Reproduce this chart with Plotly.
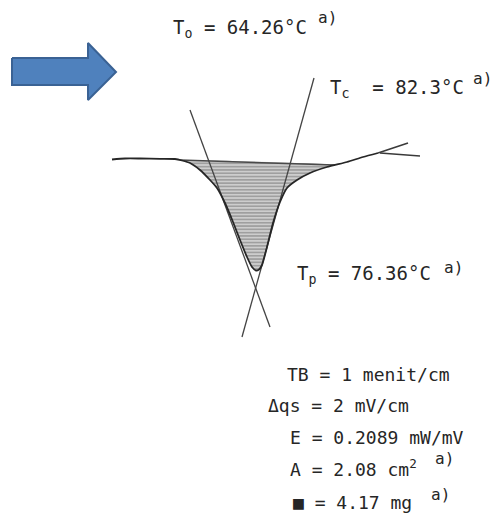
import plotly.graph_objects as go

# DSC thermogram, traced in chart-paper units (x to the right, y downward)
trace_x = [112, 125, 140, 160, 175, 182, 190, 200, 210, 217, 225, 233, 240, 247, 252,
           256, 259, 262, 267, 273, 280, 287, 297, 310, 327, 347, 363, 378]
trace_y = [159.5, 158.5, 158.5, 158.8, 159.0, 160.5, 163, 170, 180, 188, 203, 222, 240, 257, 267,
           270.5, 269.5, 265, 247, 223, 202, 188, 180, 173, 167, 162, 157, 153]

# the pen trace forks at its right end
fork_upper_x = [378, 408]
fork_upper_y = [153, 143]
fork_lower_x = [380, 420]
fork_lower_y = [153, 156]

# interpolated baseline closing the peak area
base_x = [180, 335]
base_y = [160, 165]

# construction tangents of the two peak flanks
tan_left_x = [190, 270]
tan_left_y = [110, 327]
tan_right_x = [314, 242]
tan_right_y = [78, 337]

# block arrow outline
arrow_x = [12, 88, 88, 116, 88, 88, 12, 12]
arrow_y = [58, 58, 43, 72, 100, 85, 85, 58]

# temperature labels: text, x, y
labels = [
    ("T<sub>o</sub> = 64.26°C", 171, 28),
    ("T<sub>c</sub>\u00a0 = 82.3°C", 328, 88),
    ("T<sub>p</sub> = 76.36°C", 295, 274),
]
# footnote markers "a)"
note_x = [316, 471, 442, 433, 429]
note_y = [17, 78, 267, 458, 494]

# instrument and sample settings
settings = [
    ("TB = 1 menit/cm", 285, 374),
    ("\u0394qs = 2 mV/cm", 266, 405),
    ("E = 0.2089 mW/mV", 288, 437),
    ("A = 2.08 cm<sup>2</sup>", 288, 468),
    ("\u25a0 = 4.17 mg", 291, 502),
]

INK = "#262626"
MONO = "DejaVu Sans Mono"

fig = go.Figure()

# hatched peak area: baseline left-to-right, then back along the trace
area_x = list(base_x)
area_y = list(base_y)
seg = [(x, y) for x, y in zip(trace_x, trace_y) if base_x[0] <= x <= base_x[1]]
for x, y in reversed(seg):
    area_x.append(x)
    area_y.append(y)
area_x.append(base_x[0])
area_y.append(base_y[0])

fig.add_trace(go.Scatter(
    x=area_x, y=area_y, mode="lines", fill="toself",
    line=dict(width=0, shape="spline", smoothing=0.6),
    fillcolor="rgba(0,0,0,0)",
    fillpattern=dict(shape="-", size=3.3, solidity=0.55,
                     fgcolor="#6c6c6c", bgcolor="#d2d2d2"),
    hoverinfo="skip", showlegend=False,
))

fig.add_trace(go.Scatter(x=base_x, y=base_y, mode="lines",
                         line=dict(color="#4a4a4a", width=1.5),
                         hoverinfo="skip", showlegend=False))

for tx, ty in ((tan_left_x, tan_left_y), (tan_right_x, tan_right_y)):
    fig.add_trace(go.Scatter(x=tx, y=ty, mode="lines",
                             line=dict(color="#444444", width=1.3),
                             hoverinfo="skip", showlegend=False))

fig.add_trace(go.Scatter(x=trace_x, y=trace_y, mode="lines",
                         line=dict(color=INK, width=1.8, shape="spline", smoothing=0.6),
                         hoverinfo="skip", showlegend=False))
for fx, fy in ((fork_upper_x, fork_upper_y), (fork_lower_x, fork_lower_y)):
    fig.add_trace(go.Scatter(x=fx, y=fy, mode="lines",
                             line=dict(color="#3a3a3a", width=1.5),
                             hoverinfo="skip", showlegend=False))

fig.add_trace(go.Scatter(x=arrow_x, y=arrow_y, mode="lines", fill="toself",
                         fillcolor="#4f81bd", line=dict(color="#3a6294", width=2),
                         hoverinfo="skip", showlegend=False))

for text, x, y in labels:
    fig.add_annotation(x=x, y=y, text=text, showarrow=False, xanchor="left",
                       yanchor="middle", font=dict(family=MONO, size=19, color=INK))
for text, x, y in settings:
    fig.add_annotation(x=x, y=y, text=text, showarrow=False, xanchor="left",
                       yanchor="middle", font=dict(family=MONO, size=18, color=INK))
for x, y in zip(note_x, note_y):
    fig.add_annotation(x=x, y=y, text="a)", showarrow=False, xanchor="left",
                       yanchor="middle", font=dict(family=MONO, size=16, color=INK))

fig.update_xaxes(range=[0, 494], visible=False, fixedrange=True)
fig.update_yaxes(range=[526, 0], visible=False, fixedrange=True)
fig.update_layout(width=494, height=526, margin=dict(l=0, r=0, t=0, b=0),
                  paper_bgcolor="white", plot_bgcolor="white", showlegend=False)

fig.write_html("out.html")
